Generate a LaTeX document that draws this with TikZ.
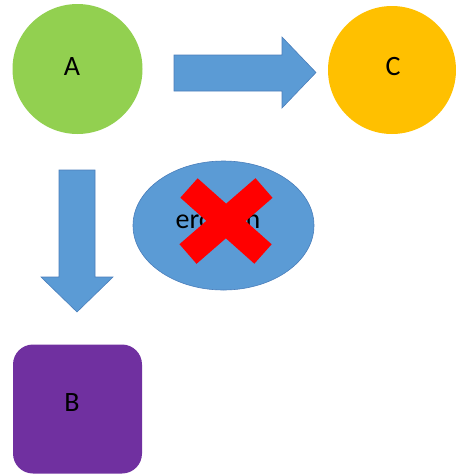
\documentclass[tikz,border=0pt]{standalone}
\usepackage{fontspec}
\setmainfont{Carlito}
\usetikzlibrary{shapes.geometric}
\definecolor{agreen}{HTML}{92D050}
\definecolor{corange}{HTML}{FFC000}
\definecolor{bpurple}{HTML}{7030A0}
\definecolor{flowblue}{HTML}{5B9BD5}
\definecolor{edgeblue}{HTML}{4A7EBB}
\tikzset{
  lbl/.style={font=\fontsize{28}{32}\selectfont, inner sep=0},
  blockarrow/.style={fill=flowblue, draw=edgeblue, line width=0.6pt},
}
\begin{document}
\begin{tikzpicture}[x=1pt, y=-1pt]
            \useasboundingbox (0, 0) rectangle (456, 475);

            \node[circle, fill=agreen, minimum size=130pt, inner sep=0] (a) at (77.5, 69) {};
            \node[circle, fill=corange, minimum size=128pt, inner sep=0] (c) at (392, 70) {};
            \node[rectangle, rounded corners=20pt, fill=bpurple, minimum size=129pt, inner sep=0] (b) at (77.5, 409) {};
            \node[ellipse, fill=flowblue, draw=edgeblue, line width=0.6pt, minimum width=181pt, minimum height=129pt, inner sep=0] (err) at (223.5, 225.5) {};

            \node[lbl] (alabel) at (72, 67) {A};
            \node[lbl] (clabel) at (393, 67) {C};
            \node[lbl] (blabel) at (72, 403) {B};
            \node[lbl] (errlabel) at (218, 219) {erosion};

            \draw[blockarrow] (174, 55) -- (282, 55) -- (282, 37) -- (316, 72.5) -- (282, 108) -- (282, 91) -- (174, 91) -- cycle;
            \draw[blockarrow] (59, 170) -- (95, 170) -- (95, 277) -- (113, 277) -- (77, 312) -- (41, 277) -- (59, 277) -- cycle;

%            \draw[red] (err.north west) -- (err.south east);
            \draw[red, line width=26pt] (189, 188) -- (263, 254);
            \draw[red, line width=26pt] (264, 188) -- (188, 254);
        \end{tikzpicture}
\end{document}
